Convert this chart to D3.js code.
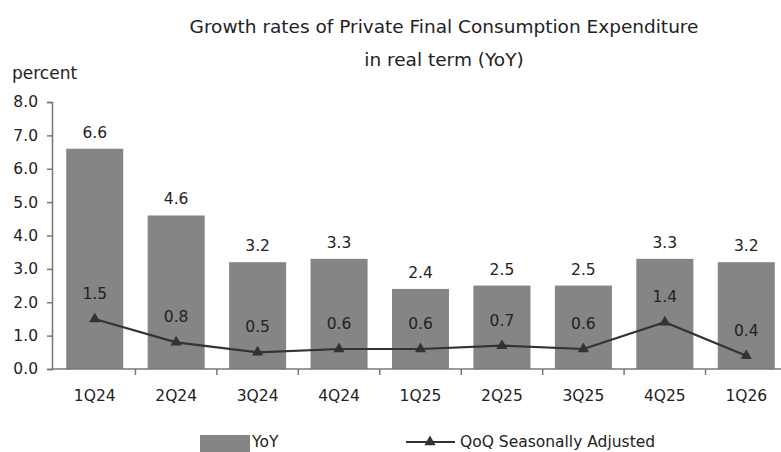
<!DOCTYPE html>
<html><head><meta charset="utf-8">
<script src="https://cdn.jsdelivr.net/npm/d3@7"></script>
<style>body{margin:0;background:#fff;} svg{display:block;font-family:"DejaVu Sans",Verdana,sans-serif;}</style>
</head><body>
<script>
const categories = ["1Q24","2Q24","3Q24","4Q24","1Q25","2Q25","3Q25","4Q25","1Q26"];
const yoy = [6.6, 4.6, 3.2, 3.3, 2.4, 2.5, 2.5, 3.3, 3.2];
const qoq = [1.5, 0.8, 0.5, 0.6, 0.6, 0.7, 0.6, 1.4, 0.4];
const yTicks = [0,1,2,3,4,5,6,7,8];

const W = 781, H = 452;
const svg = d3.select("body").append("svg").attr("width", W).attr("height", H);
const x = d3.scaleBand().domain(categories).range([54, 787]).paddingInner(0.3).paddingOuter(0.15);
const y = d3.scaleLinear().domain([0, 8]).range([369, 102]);
const fmt = d3.format(".1f");
const txt = "#222";
const fs = 15.5;

svg.append("text").attr("x", 444).attr("y", 33).attr("text-anchor","middle").attr("font-size",18.5).attr("fill",txt).text("Growth rates of Private Final Consumption Expenditure");
svg.append("text").attr("x", 444).attr("y", 66).attr("text-anchor","middle").attr("font-size",18.5).attr("fill",txt).text("in real term (YoY)");
svg.append("text").attr("x", 12).attr("y", 79).attr("font-size",17).attr("fill",txt).text("percent");

// bars
svg.selectAll("rect.bar").data(categories).join("rect").attr("class","bar")
  .attr("x", d => x(d)).attr("width", x.bandwidth())
  .attr("y", (d,i) => y(yoy[i])).attr("height", (d,i) => y(0) - y(yoy[i]))
  .attr("fill", "#858585");

// axes
const yAxis = svg.append("g").attr("transform","translate(52,0)")
  .call(d3.axisLeft(y).tickValues(yTicks).tickFormat(fmt).tickSize(5).tickPadding(9));
yAxis.select(".domain").attr("stroke","#777").attr("stroke-width",1.5);
yAxis.selectAll(".tick line").attr("stroke","#777").attr("stroke-width",1.5);
yAxis.selectAll("text").attr("font-size",fs).attr("fill",txt).attr("font-family","DejaVu Sans");

const xAxis = svg.append("g").attr("transform","translate(0,369)")
  .call(d3.axisBottom(x).tickSize(0).tickPadding(21));
xAxis.select(".domain").remove();
svg.append("line").attr("x1",52).attr("x2",787).attr("y1",369).attr("y2",369).attr("stroke","#777").attr("stroke-width",1.5);
xAxis.selectAll("text").attr("font-size",fs).attr("fill",txt).attr("font-family","DejaVu Sans");
// separators between categories
const step = x.step();
svg.selectAll("line.sep").data(categories.slice(1)).join("line").attr("class","sep")
  .attr("x1", d => x(d) - x.paddingInner()*step/2).attr("x2", d => x(d) - x.paddingInner()*step/2)
  .attr("y1", 369).attr("y2", 375).attr("stroke","#777").attr("stroke-width",1.5);

// bar labels
svg.selectAll("text.bl").data(categories).join("text").attr("class","bl")
  .attr("x", d => x(d) + x.bandwidth()/2).attr("y", (d,i) => y(yoy[i]) - 11)
  .attr("text-anchor","middle").attr("font-size",fs).attr("fill",txt).text((d,i) => fmt(yoy[i]));

// line
const cx = d => x(d) + x.bandwidth()/2;
const line = d3.line().x((d,i) => cx(categories[i])).y(d => y(d));
svg.append("path").datum(qoq).attr("d", line).attr("fill","none").attr("stroke","#333").attr("stroke-width",2.2);
const tri = d3.symbol().type(d3.symbolTriangle).size(55);
svg.selectAll("path.pt").data(qoq).join("path").attr("class","pt")
  .attr("d", tri).attr("transform", (d,i) => `translate(${cx(categories[i])},${y(d)})`).attr("fill","#333");
svg.selectAll("text.ll").data(qoq).join("text").attr("class","ll")
  .attr("x", (d,i) => cx(categories[i])).attr("y", d => y(d) - 20)
  .attr("text-anchor","middle").attr("font-size",fs).attr("fill",txt).text(d => fmt(d));

// legend
svg.append("rect").attr("x",200).attr("y",435).attr("width",50).attr("height",20).attr("fill","#858585");
svg.append("text").attr("x",252).attr("y",447).attr("font-size",fs).attr("fill",txt).text("YoY");
svg.append("line").attr("x1",406).attr("x2",455).attr("y1",442).attr("y2",442).attr("stroke","#333").attr("stroke-width",2.2);
svg.append("path").attr("d",tri).attr("transform","translate(430,442)").attr("fill","#333");
svg.append("text").attr("x",460).attr("y",447).attr("font-size",fs).attr("fill",txt).text("QoQ Seasonally Adjusted");
</script>
</body></html>
